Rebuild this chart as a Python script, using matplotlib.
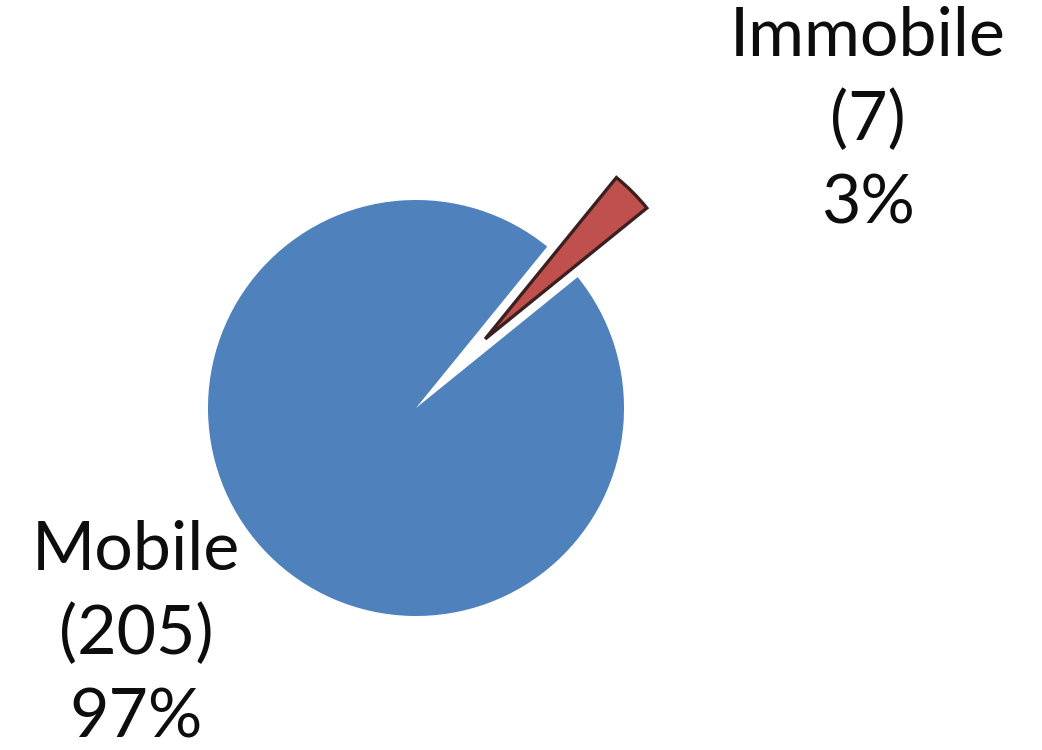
import matplotlib
matplotlib.use("Agg")
import matplotlib.pyplot as plt

categories = ["Mobile", "Immobile"]
counts = [205, 7]
colors = ["#4F81BD", "#C0504D"]
explode = [0.0, 0.47]

W, H, DPI = 1042, 750, 100
fig = plt.figure(figsize=(W / DPI, H / DPI), dpi=DPI)
ax = fig.add_axes([0, 0, 1, 1])

# pie center at (416, 408) px, radius 208 px
cx, cy, r = 416, 408, 208

wedges, _ = ax.pie(counts, colors=colors, explode=explode, startangle=39,
                   counterclock=False, radius=1.0, center=(0, 0), frame=True)
ax.set_xlim(-cx / r, (W - cx) / r)
ax.set_ylim(-(H - cy) / r, cy / r)
ax.set_aspect("auto")
ax.axis("off")
wedges[0].set_edgecolor("none")
wedges[1].set_edgecolor("#3b2020")
wedges[1].set_linewidth(2.4)

total = sum(counts)
label_px = {"Mobile": (136, 635), "Immobile": (868, 121)}
for cat, n in zip(categories, counts):
    px, py = label_px[cat]
    txt = f"{cat}\n({n})\n{round(100 * n / total)}%"
    fig.text(px / W, 1 - py / H, txt, ha="center", va="center",
             fontsize=49, family=["Lato", "DejaVu Sans"], color="#0d0d0d",
             linespacing=1.42)

fig.savefig("out.png", dpi=DPI)
